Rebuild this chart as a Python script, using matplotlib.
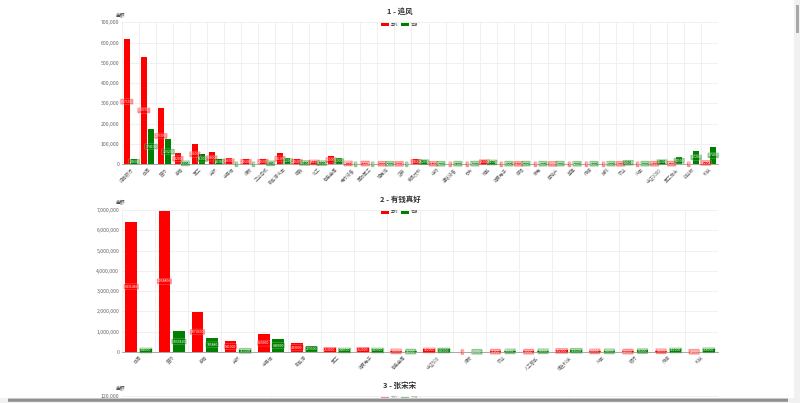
import numpy as np
import matplotlib
matplotlib.use('Agg')
import matplotlib.pyplot as plt
from matplotlib.patches import Rectangle, FancyBboxPatch
from matplotlib.ticker import FuncFormatter, MultipleLocator

plt.rcParams['font.family'] = ['Noto Sans CJK SC', 'DejaVu Sans']

#chart 1 data
names1 = ['招商银行', '白酒', '医药', '券商', '军工', '光伏', '半导体', '煤炭', '工业母机',
          '新能源汽车', '钢铁', '化工', '有色金属', '电力设备', '国防军工', '锂电池', '证券',
          '食品饮料', '中药', '通信设备', '芯片', '储能', '消费电子', '保险', '家电',
          '房地产', '基建', '传媒', '游戏', '农业', '汽车', '中证1000', '军工龙头',
          '创业板', '科技']
profit1 = [617150, 530700, 279300, 54200, 98600, 60800, 29600, 24600, 24600,
           54100, 24600, 18100, 41000, 8200, 7600, 5300, 4800, 24600, 5100,
           0, 0, 21000, 0, 4600, 0, 3900, 0, 0, 0, 4200, 0, 5600, 6100, 0, 13200]
loss1 = [24600, 174100, 123200, 9900, 51000, 26300, 0, 0, 9800,
         31200, 13100, 11500, 31000, 0, 0, 5200, 0, 21200, 5400,
         5700, 6300, 18100, 5900, 6100, 5800, 6400, 5200, 5500, 5900, 14800, 6200,
         21300, 34500, 67200, 87400]

#chart 2 data
names2 = ['白酒', '医药', '券商', '光伏', '半导体', '新能源', '军工', '消费电子', '有色金属',
          '中证500', '煤炭', '农业', '人工智能', '恒生科技', '汽车', '银行', '传媒', '科技']
profit2 = [6431489, 6958806, 1974600, 541000, 869000, 443000, 213000, 212000, 62000,
           152000, 0, 31000, 30000, 102000, 61000, 42000, 68000, 22000]
loss2 = [148000, 1033420, 705880, 115000, 640000, 279500, 148500, 149000, 41000,
         146000, 21000, 58000, 69000, 118000, 63000, 86000, 151000, 168000]

#chart 3 (only its top edge is on screen)
names3 = ['白酒', '医药', '券商', '光伏']
profit3 = [0, 0, 0, 0]
loss3 = [0, 0, 0, 0]

RED = '#ff0000'
GREEN = '#008000'
W, H = 800, 403

fig = plt.figure(figsize=(8, 4.03), dpi=100)
fig.patch.set_facecolor('white')


def px(x, y):
    return x / W, 1 - y / H


def draw_chart(top, names, profit, loss, ymax, step, title, visible=True):
    left, right = 122, 718
    hgt = 142
    ax = fig.add_axes([left / W, 1 - (top + hgt) / H, (right - left) / W, hgt / H])
    n = len(names)
    x = np.arange(n)
    ax.bar(x - 0.22, profit, 0.35, color=RED, zorder=3)
    ax.bar(x + 0.22, loss, 0.35, color=GREEN, zorder=3)
    if visible:
        for i in range(n):
            for off, v, c in [(-0.22, profit[i], RED), (0.22, loss[i], GREEN)]:
                ax.text(x[i] + off, v / 2, str(v), ha='center', va='center', fontsize=2.5,
                        color='white', zorder=5,
                        bbox=dict(boxstyle='round,pad=0.25', fc=c, ec='white', lw=0.3, alpha=0.45))
    ax.set_xlim(-0.5, n - 0.5)
    ax.set_ylim(0, ymax)
    if visible:
        ax.yaxis.set_major_locator(MultipleLocator(step))
    else:
        # the rest of this chart is scrolled off the page
        ax.set_yticks([ymax])
    ax.yaxis.set_major_formatter(FuncFormatter(lambda v, p: f'{int(v):,}'))
    ax.set_xticks(x)
    if visible:
        ax.set_xticklabels(names, rotation=45, ha='right', rotation_mode='anchor',
                           fontsize=3.2, color='#666666')
    else:
        ax.set_xticklabels([])
    ax.set_xticks(np.arange(-0.5, n, 1), minor=True)
    ax.tick_params(axis='x', which='both', length=0, pad=2)
    ax.tick_params(axis='y', length=0, labelsize=3.7, labelcolor='#666666', pad=2)
    ax.grid(axis='y', color='#eeeeee', lw=0.6, zorder=0)
    ax.grid(axis='x', which='minor', color='#eeeeee', lw=0.6, zorder=0)
    for s in ['top', 'right', 'left']:
        ax.spines[s].set_visible(False)
    ax.spines['bottom'].set_color('#999999')
    ax.spines['bottom'].set_linewidth(0.6)

    fig.text(*px(400, top - 11), title, ha='center', va='center', fontsize=5.4,
             fontweight='bold', color='#333333')
    fig.text(*px(121, top - 7), '金额', ha='center', va='center', fontsize=3.4, color='#333333')
    # legend
    ly = top + 2.3
    a = 1.0 if visible else 0.45
    for rx, c, t in [(381, RED, '盈利'), (401, GREEN, '亏损')]:
        fig.patches.append(Rectangle(px(rx, ly + 1.8), 8 / W, 3.6 / H, transform=fig.transFigure,
                                     fc=c, ec='none', alpha=a))
        fig.text(*px(rx + 9.5, ly), t, ha='left', va='center', fontsize=2.7, color='#555555',
                 alpha=a)
    return ax


draw_chart(22.3, names1, profit1, loss1, 700000, 100000, '1 - 追风')
draw_chart(210, names2, profit2, loss2, 7000000, 1000000, '2 - 有钱真好')
draw_chart(396, names3, profit3, loss3, 120000, 20000, '3 - 张宋宋', visible=False)

# browser scrollbars
fig.patches.append(Rectangle(px(0, 403), 1, 5 / H, transform=fig.transFigure,
                             fc='#f1f1f1', ec='none', zorder=10))
fig.patches.append(FancyBboxPatch(px(8, 401.8), 780 / W, 3.2 / H, boxstyle='round,pad=0',
                                  transform=fig.transFigure, fc='#8f8f8f', ec='none', zorder=11))
fig.patches.append(Rectangle(px(794, 403), 6 / W, 1, transform=fig.transFigure,
                             fc='#f1f1f1', ec='none', zorder=10))
fig.patches.append(Rectangle(px(796, 33), 3.2 / W, 28 / H, transform=fig.transFigure,
                             fc='#a8a8a8', ec='none', zorder=11))

fig.savefig('out.png', dpi=100)
